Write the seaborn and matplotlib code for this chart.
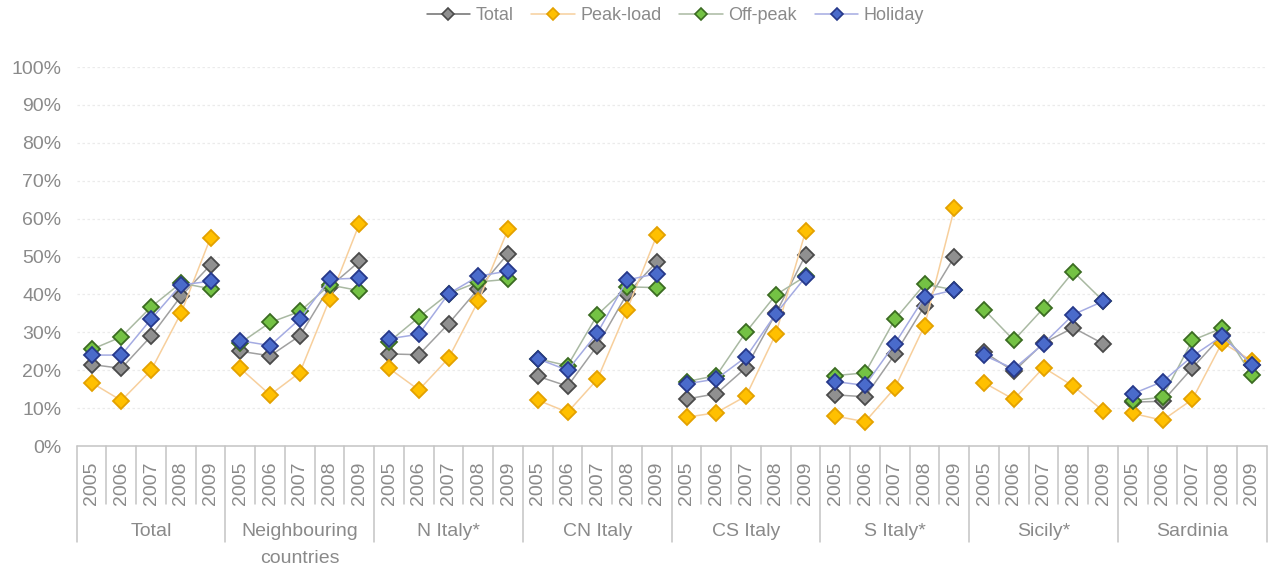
import matplotlib
matplotlib.use("Agg")
import matplotlib.pyplot as plt
import numpy as np
import pandas as pd
import seaborn as sns
from matplotlib.lines import Line2D
from matplotlib.ticker import FuncFormatter, MultipleLocator

# ---- data -------------------------------------------------------------
regions = ["Total", "Neighbouring\ncountries", "N Italy*", "CN Italy",
           "CS Italy", "S Italy*", "Sicily*", "Sardinia"]
years = ["2005", "2006", "2007", "2008", "2009"]

# values in %, five years per region, regions in the order above
total = [21.5, 20.5, 29.0, 39.5, 47.8,
         25.0, 23.8, 29.1, 42.0, 48.7,
         24.3, 24.1, 32.3, 41.5, 50.8,
         18.4, 15.8, 26.5, 40.2, 48.6,
         12.4, 13.8, 20.7, 35.0, 50.4,
         13.5, 13.0, 24.2, 37.0, 49.9,
         24.8, 19.7, 27.2, 31.2, 27.0,
         11.6, 11.8, 20.6, 29.2, 21.5]
peak_load = [16.7, 12.0, 20.0, 35.0, 55.0,
             20.5, 13.5, 19.4, 38.7, 58.6,
             20.5, 14.8, 23.2, 38.3, 57.2,
             12.1, 8.9, 17.6, 36.0, 55.6,
             7.6, 8.8, 13.2, 29.6, 56.7,
             7.9, 6.4, 15.3, 31.8, 62.7,
             16.7, 12.3, 20.7, 15.8, 9.3,
             8.6, 6.8, 12.3, 27.3, 22.5]
off_peak = [25.5, 28.8, 36.7, 43.0, 41.5,
            27.2, 32.6, 35.5, 42.5, 41.0,
            27.5, 34.0, 40.2, 43.3, 44.0,
            23.0, 21.2, 34.6, 42.0, 41.8,
            17.0, 18.6, 30.1, 39.9, 44.8,
            18.6, 19.3, 33.4, 42.7, 41.2,
            36.0, 27.9, 36.4, 46.0, 38.3,
            12.0, 12.9, 27.9, 31.1, 18.7]
holiday = [24.0, 24.0, 33.5, 42.5, 43.5,
           27.8, 26.5, 33.5, 44.0, 44.3,
           28.3, 29.5, 40.2, 44.8, 46.2,
           23.0, 20.0, 29.8, 43.8, 45.5,
           16.4, 17.7, 23.5, 34.9, 44.6,
           17.0, 16.0, 27.0, 39.3, 41.2,
           23.9, 20.4, 27.0, 34.7, 38.2,
           13.8, 17.0, 23.7, 29.0, 21.4]

series_names = ["Total", "Peak-load", "Off-peak", "Holiday"]
series_values = [total, peak_load, off_peak, holiday]

# line colour, marker fill, marker edge
styles = {
    "Total":     ("#a0a0a0", "#909090", "#4a4a4a"),
    "Peak-load": ("#f7cf9c", "#ffc000", "#e3a100"),
    "Off-peak":  ("#a9b9a2", "#74c244", "#3b6b22"),
    "Holiday":   ("#a4abe2", "#4a6bcb", "#26388a"),
}

rows = []
for name, vals in zip(series_names, series_values):
    for gi, reg in enumerate(regions):
        for yi, yr in enumerate(years):
            rows.append({"series": name, "region": reg, "year": yr,
                         "pos": gi * len(years) + yi,
                         "value": vals[gi * len(years) + yi]})
df = pd.DataFrame(rows)

# ---- figure -----------------------------------------------------------
sns.set_theme(style="white")
plt.rcParams["font.family"] = ["Liberation Sans", "DejaVu Sans"]
text_c = "#8a8a8a"
fs = 14

fig = plt.figure(figsize=(12.79, 5.75), dpi=100)
ax = fig.add_axes([0.0600, 0.2243, 0.9304, 0.6591])

for z, name in enumerate(series_names):
    lc, fc, ec = styles[name]
    sns.lineplot(data=df[df["series"] == name], x="pos", y="value",
                 units="region", estimator=None, ax=ax, legend=False,
                 color=lc, lw=1.1, marker="D", markersize=7.8,
                 markerfacecolor=fc, markeredgecolor=ec,
                 markeredgewidth=1.3, zorder=3 + z)

n = len(regions) * len(years)
ax.set_xlim(-0.5, n - 0.5)
ax.set_ylim(0, 100)
ax.set_xticks([])
ax.set_xlabel("")
ax.set_ylabel("")
ax.yaxis.set_major_locator(MultipleLocator(10))
ax.yaxis.set_major_formatter(FuncFormatter(lambda v, p: f"{v:.0f}%"))
ax.tick_params(axis="y", length=0, pad=11, labelsize=fs,
               labelcolor=text_c)
for s in ax.spines.values():
    s.set_visible(False)
ax.yaxis.grid(True, color="#ebebeb", lw=0.9, ls=(0, (2, 2)))
ax.set_axisbelow(True)

# ---- two-level category axis ------------------------------------------
trans = ax.get_xaxis_transform()
box_c = "#c4c4c4"
ax.plot([-0.5, n - 0.5], [0, 0], transform=trans, color=box_c, lw=1.1,
        clip_on=False, zorder=2)
for b in range(n + 1):
    bottom = -0.2533 if b % len(years) == 0 else -0.154
    ax.plot([b - 0.5, b - 0.5], [0, bottom], transform=trans, color=box_c,
            lw=1.1, clip_on=False)
for _, r in df[df["series"] == "Total"].iterrows():
    ax.text(r["pos"], -0.0985, r["year"], rotation=90, ha="center",
            va="center", transform=trans, fontsize=fs, color=text_c)
for gi, reg in enumerate(regions):
    ax.text(gi * len(years) + (len(years) - 1) / 2, -0.203, reg,
            ha="center", va="top", transform=trans, fontsize=fs,
            color=text_c, linespacing=1.8)

# ---- legend -----------------------------------------------------------
handles = [Line2D([], [], color=("#6e6e6e" if nm == "Total" else styles[nm][0]),
                  lw=1.1, marker="D", markersize=6.5,
                  markerfacecolor=styles[nm][1],
                  markeredgecolor=styles[nm][2], markeredgewidth=1.2)
           for nm in series_names]
fig.legend(handles, series_names, loc="center", bbox_to_anchor=(0.528, 0.973),
           ncol=4, frameon=False, fontsize=13, labelcolor=text_c,
           handlelength=2.4, handletextpad=0.3, columnspacing=1.0)

fig.savefig("out.png", dpi=100, facecolor="white")
